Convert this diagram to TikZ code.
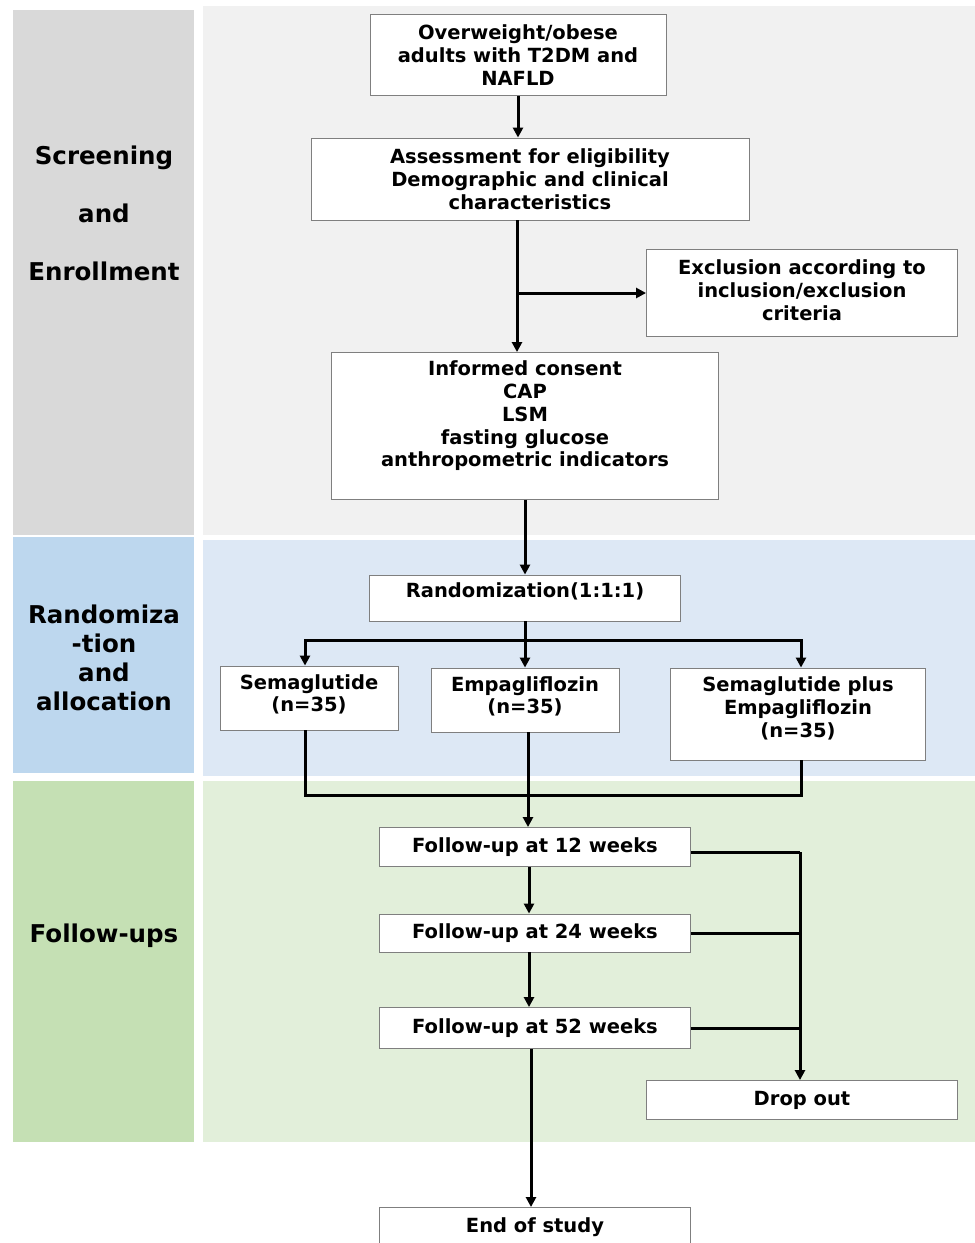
\documentclass[tikz,border=0pt]{standalone}
\usepackage{fontspec}
\setmainfont{DejaVu Sans}
\usetikzlibrary{arrows.meta}
\definecolor{grayband}{HTML}{D9D9D9}
\definecolor{graypanel}{HTML}{F1F1F1}
\definecolor{blueband}{HTML}{BDD7EE}
\definecolor{bluepanel}{HTML}{DDE8F5}
\definecolor{greenband}{HTML}{C5E0B4}
\definecolor{greenpanel}{HTML}{E2EFDA}
\definecolor{boxline}{HTML}{7F7F7F}
\tikzset{
  box/.style={shape=rectangle,draw=boxline,line width=0.9pt,fill=white,align=center,
    font=\bfseries\fontsize{19.5}{22.75}\selectfont},
  phase/.style={align=center,font=\bfseries\fontsize{24.5}{29}\selectfont},
  line/.style={line width=3pt},
  arr/.style={line width=3pt,-{Triangle[length=10pt,width=10pt]}}
}
\begin{document}
\begin{tikzpicture}[x=1pt,y=-1pt]
\useasboundingbox (0,0) rectangle (975,1243);
% bands
\fill[grayband]   (13,10)   rectangle (194,535);
\fill[graypanel]  (203,6)   rectangle (975,535);
\fill[blueband]   (13,537)  rectangle (194,773);
\fill[bluepanel]  (203,540) rectangle (975,776);
\fill[greenband]  (13,781)  rectangle (194,1142);
\fill[greenpanel] (203,781) rectangle (975,1142);
\node(scr) at (104,213)[phase]{Screening\\[29pt]and\\[29pt]Enrollment};
\node(alloc) at (104,658)[phase]{Randomiza\\-tion\\and\\allocation};
\node(fol) at (104,936)[phase]{Follow-ups};
% boxes
\node(obese) at (518,55)[box,minimum width=296pt,minimum height=81pt]{Overweight/obese\\adults with T2DM and\\NAFLD};
\node(assess) at (530,179)[box,minimum width=438pt,minimum height=82pt]{Assessment for eligibility\\Demographic and clinical\\characteristics};
\node(excl) at (802,293)[box,minimum width=311pt,minimum height=87pt,text depth=6pt]{Exclusion according to\\inclusion/exclusion\\criteria};
\node(informed) at (525,426)[box,minimum width=387pt,minimum height=147pt,text depth=24pt]{Informed consent\\CAP\\LSM\\fasting glucose\\anthropometric indicators};
\node(random) at (525,598)[box,minimum width=311pt,minimum height=46pt,text depth=16pt]{Randomization(1:1:1)};
\node(sema) at (309,698)[box,minimum width=178pt,minimum height=64pt,text depth=10pt]{Semaglutide\\(n=35)};
\node(empa) at (525,700)[box,minimum width=188pt,minimum height=64pt,text depth=10pt]{Empagliflozin\\(n=35)};
\node(combo) at (798,714)[box,minimum width=255pt,minimum height=92pt,text depth=14pt]{Semaglutide plus\\Empagliflozin\\(n=35)};
\node(fu12) at (535,847)[box,minimum width=311pt,minimum height=39pt]{Follow-up at 12 weeks};
\node(fu24) at (535,933)[box,minimum width=311pt,minimum height=38pt]{Follow-up at 24 weeks};
\node(fu52) at (535,1028)[box,minimum width=311pt,minimum height=41pt]{Follow-up at 52 weeks};
\node(drop) at (802,1100)[box,minimum width=311pt,minimum height=39pt]{Drop out};
\node(end) at (535,1227)[box,minimum width=311pt,minimum height=39pt]{End of study};
% junctions
\coordinate(split) at (525,640);
\coordinate(merge) at (528,795);
\coordinate(spine) at (529,900);
\coordinate(dropx) at (800,852);
% connectors
\draw[arr] (obese.south) -- (obese.south |- assess.north);
\draw[arr] (assess.south -| 517,0) -- (informed.north -| 517,0);
\draw[arr] (excl.west -| 517,0) -- (excl.west);
\path[arr] (informed) edge (random);
\draw[line] (random.south) -- (split);
\draw[arr] (split) -| (sema.north -| 305,0);
\draw[arr] (split) -| (combo.north -| 801,0);
\draw[arr] (split) -- (empa.north);
\draw[line] (sema.south -| 305,0) |- (merge) -| (combo.south -| 801,0);
\draw[arr] (empa.south -| merge) -- (fu12.north -| merge);
\draw[arr] (fu12.south -| spine) -- (fu24.north -| spine);
\draw[arr] (fu24.south -| spine) -- (fu52.north -| spine);
\draw[arr] (fu52.south -| 531,0) -- (end.north -| 531,0);
\draw[line] (fu12.east |- dropx) -- (dropx);
\draw[line] (fu24.east) -- (fu24.east -| dropx);
\draw[line] (fu52.east) -- (fu52.east -| dropx);
\draw[arr] (dropx) -- (drop.north -| dropx);
\end{tikzpicture}
\end{document}
